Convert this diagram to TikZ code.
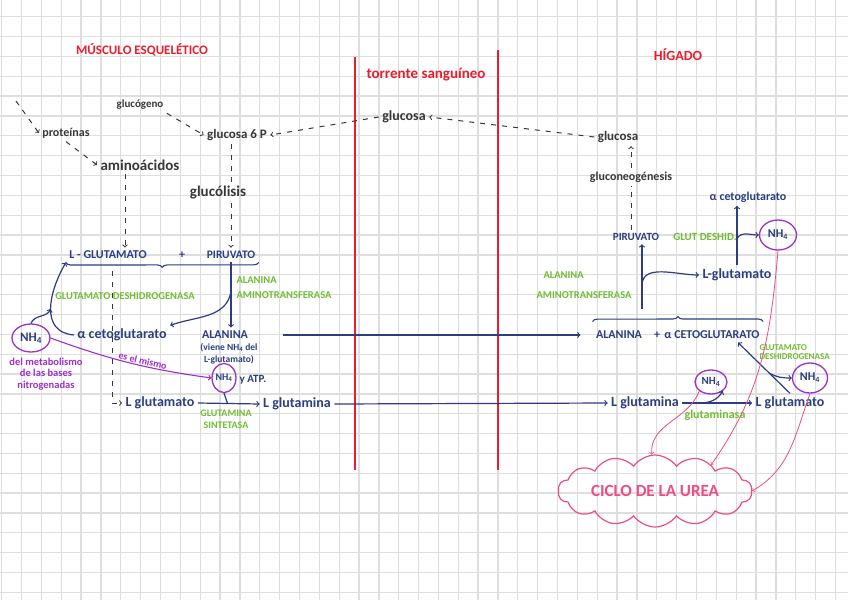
\documentclass[tikz,border=0pt]{standalone}
\usepackage{fontspec}
\setmainfont{Carlito}
\usetikzlibrary{shapes,arrows,decorations.pathreplacing}

\definecolor{ink}{RGB}{44,62,128}
\definecolor{leaf}{RGB}{112,190,52}
\definecolor{redpen}{RGB}{236,28,44}
\definecolor{graphite}{RGB}{55,55,55}
\definecolor{lilac}{RGB}{156,48,204}
\definecolor{rose}{RGB}{236,78,132}
\definecolor{paper}{RGB}{222,222,222}

\newcommand{\fsz}[1]{\fontsize{#1}{#1}\selectfont\bfseries}
\newcommand{\nhq}{NH\textsubscript{4}}

\tikzstyle{gridline} = [paper, line width=1.3pt]
\tikzstyle{region} = [text=redpen]
\tikzstyle{divider} = [redpen, line width=1.4pt]
\tikzstyle{pencil} = [text=graphite]
\tikzstyle{metab} = [text=ink]
\tikzstyle{enzyme} = [text=leaf]
\tikzstyle{nh} = [draw=lilac, ellipse, line width=1.3pt, text=ink, inner sep=0pt]
\tikzstyle{flow} = [graphite, dash pattern=on 5pt off 6pt, line width=1pt, ->]
\tikzstyle{react} = [ink, line width=1.2pt, ->]
\tikzstyle{curly} = [ink, line width=1.1pt, decorate]
\tikzstyle{samearrow} = [lilac, line width=1.1pt, ->]
\tikzstyle{urea} = [draw=rose, cloud, cloud puffs=14, cloud puff arc=110, cloud ignores aspect, line width=1.2pt, text=rose, minimum width=194pt, minimum height=72pt]
\tikzstyle{tourea} = [rose, line width=0.8pt, ->]

\begin{document}
\begin{tikzpicture}[x=1pt,y=-1pt]
	% squared paper
	\useasboundingbox (0,0) rectangle (848,600);
	\fill[white] (0,0) rectangle (848,600);
	\foreach \i in {0,...,42} \draw[gridline] (1.7+19.85*\i,0) -- (1.7+19.85*\i,600);
	\foreach \j in {1,...,30} \draw[gridline] (0,-3.15+19.85*\j) -- (848,-3.15+19.85*\j);

	% the three compartments
	\node[region, font=\fsz{13}] (musculo) at (142,50) {MÚSCULO ESQUELÉTICO};
	\node[region, font=\fsz{15}] (torrente) at (426,75) {torrente sanguíneo};
	\node[region, font=\fsz{14}] (higado) at (678,55) {HÍGADO};
	\draw[divider] (355,57) -- (355,470);
	\draw[divider] (498,50) -- (498,470);

	% sugars and amino acids
	\coordinate (src) at (16,101);
	\node[pencil, font=\fsz{11}] (glucogeno) at (140,105) {glucógeno};
	\node[pencil, font=\fsz{12}] (prot) at (66,133) {proteínas};
	\node[pencil, font=\fsz{15}] (amino) at (140,165) {aminoácidos};
	\node[pencil, font=\fsz{13}] (g6p) at (237,135) {glucosa 6 P};
	\node[pencil, font=\fsz{15}] (glucolisis) at (218,193) {glucólisis};
	\node[pencil, font=\fsz{14}] (sangre) at (404,117) {glucosa};
	\node[pencil, font=\fsz{13}] (hepglc) at (618,137) {glucosa};
	\node[pencil, font=\fsz{12}] (gng) at (631,177) {gluconeogénesis};

	% muscle
	\node[metab, font=\fsz{12}] (lglu) at (108,255) {L - GLUTAMATO};
	\node[metab, font=\fsz{12}] (plus1) at (182,255) {+};
	\node[metab, font=\fsz{11.5}] (piru) at (231,255) {PIRUVATO};
	\node[enzyme, font=\fsz{10.5}] (gdh) at (125,296) {GLUTAMATO DESHIDROGENASA};
	\node[enzyme, font=\fontsize{10.5}{15}\selectfont\bfseries, align=left, anchor=west] (alt) at (233,288) {ALANINA\\AMINOTRANSFERASA};
	\node[metab, font=\fsz{14}] (aketo) at (122,335) {α cetoglutarato};
	\node[metab, font=\fsz{12}] (ala) at (225,335) {ALANINA};
	\node[metab, font=\fontsize{9.5}{12}\selectfont\bfseries, align=center] (alanote) at (229,354) {(viene \nhq{} del\\L-glutamato)};
	\node[nh, font=\fsz{13}, minimum width=38pt, minimum height=28pt] (nh4a) at (31,338) {\nhq};
	\node[text=lilac, font=\fontsize{10.5}{11.5}\selectfont\bfseries, align=center] (origen) at (46,374) {del metabolismo\\de las bases\\nitrogenadas};
	\node[nh, font=\fsz{10}, minimum width=23pt, minimum height=29pt] (nh4b) at (224,378) {\nhq};
	\node[metab, font=\fsz{11}] (atp) at (253,380) {y ATP.};
	\node[metab, font=\fsz{14}] (lglut) at (160,403) {L glutamato};
	\node[metab, font=\fsz{14}] (lglna) at (297,404) {L glutamina};
	\node[enzyme, font=\fontsize{10}{12}\selectfont\bfseries, align=center] (glnsint) at (226,419) {GLUTAMINA\\SINTETASA};
	\coordinate (cut) at (112,271);

	% liver
	\node[metab, font=\fsz{11}] (piruR) at (636,237) {PIRUVATO};
	\node[enzyme, font=\fsz{11}] (gdhR) at (705,237) {GLUT DESHID.};
	\node[metab, font=\fsz{12}] (aketoR) at (748,197) {α cetoglutarato};
	\node[nh, font=\fsz{12}, minimum width=37pt, minimum height=30pt] (nh4c) at (778,235) {\nhq};
	\node[metab, font=\fsz{14}] (lgluR) at (737,275) {L-glutamato};
	\node[enzyme, font=\fontsize{10.5}{20}\selectfont\bfseries, align=left, anchor=west] (altR) at (533,285) {\hspace{7pt}ALANINA\\AMINOTRANSFERASA};
	\node[metab, font=\fsz{12}] (alaR) at (619,335) {ALANINA};
	\node[metab, font=\fsz{12}] (plus2) at (657,335) {+};
	\node[metab, font=\fsz{12}] (cetoR) at (712,335) {α CETOGLUTARATO};
	\node[enzyme, font=\fontsize{9}{8.5}\selectfont\bfseries, align=left, anchor=west] (gdhR2) at (756,352) {GLUTAMATO\\DESHIDROGENASA};
	\node[nh, font=\fsz{12}, minimum width=35pt, minimum height=30pt] (nh4e) at (810,378) {\nhq};
	\node[nh, font=\fsz{11}, minimum width=32pt, minimum height=24pt] (nh4d) at (711,382) {\nhq};
	\node[metab, font=\fsz{14}] (lglnR) at (645,403) {L glutamina};
	\node[metab, font=\fsz{14}] (lgluR2) at (790,403) {L glutamato};
	\node[enzyme, font=\fsz{12}] (glnasa) at (715,415) {glutaminasa};
	\node[urea, font=\fsz{17}] (urea) at (655,491) {CICLO DE LA UREA};
	\coordinate (bt) at (642,309);

	% dashed routes
	\draw[flow] (src) -- (prot.west);
	\draw[flow] (prot.south) -- (amino.west);
	\draw[flow] (glucogeno.south east) -- (g6p.west);
	\draw[flow] ([xshift=-15pt]amino.south) -- ([xshift=-15pt]amino.south |- lglu.north);
	\draw[flow,-] (g6p.south -| piru.north) -- (glucolisis.north -| piru.north);
	\draw[flow] (glucolisis.south -| piru.north) -- (piru.north);
	\draw[flow] (hepglc.west) -- (sangre.east);
	\draw[flow] (sangre.west) -- (g6p.east);
	\draw[flow,-] (piruR.north -| gng.south) -- (gng.south);
	\draw[flow] (gng.north) -- (gng.north |- hepglc.south);
	\draw[flow] (cut) |- (lglut.west);

	% muscle reactions
	\draw[curly, decoration={brace,mirror,amplitude=5pt}] (lglu.south west) -- (piru.south east);
	\draw[react] (piru.south) -- node[coordinate,pos=0.45] (tr1) {} (piru.south |- ala.north);
	\draw[react] (tr1) to[out=-100,in=20] (aketo.north east);
	\draw[react] (aketo.west) to[out=175,in=-120,looseness=1.2] node[coordinate,pos=0.5] (tr0) {} (lglu.south west);
	\draw[react] (nh4a.north) to[out=70,in=-110] (tr0);
	\draw[samearrow] (nh4a.east) to[bend right=6] node[sloped,above,pos=0.58,inner sep=1pt,font=\fsz{10}] {es el mismo} (nh4b.west);
	\draw[react] (lglut.east) -- node[coordinate,pos=0.48] (tr6) {} (lglna.west);
	\draw[react,-] (nh4b.south) -- (tr6);

	% to the liver
	\draw[react] ([xshift=32pt]ala.east) -- ([xshift=-12pt]alaR.west);
	\draw[react] (lglna.east) -- (lglnR.west);

	% liver reactions
	\draw[curly, decoration={brace,amplitude=5pt}] ([yshift=6pt]alaR.north west) -- ([yshift=6pt]cetoR.north east);
	\draw[react] (bt) -- node[coordinate,pos=0.36] (tr2) {} (bt |- piruR.south);
	\draw[react] (tr2) to[out=90,in=180] (lgluR.west);
	\draw[react] (lgluR.north) -- node[coordinate,pos=0.45] (tr3) {} (lgluR.north |- aketoR.south);
	\draw[react] (tr3) to[out=60,in=180] (nh4c.west);
	\draw[react] (lgluR2.north) -- node[coordinate,pos=0.4] (tr5) {} ([xshift=26pt]cetoR.south);
	\draw[react] (tr5) to[out=-30,in=180] (nh4e.west);
	\draw[react] (lglnR.east) -- node[coordinate,pos=0.25] (tr4) {} (lgluR2.west);
	\draw[react] (tr4) to[out=0,in=-120] (nh4d.south east);

	% ammonium to the urea cycle
	\draw[tourea] (nh4d.south west) to[out=-110,in=95] (urea.95);
	\draw[tourea] (nh4c.south) to[out=-95,in=55] (urea.25);
	\draw[tourea] (nh4e.south) to[out=-110,in=30] (urea.east);
\end{tikzpicture}
\end{document}
